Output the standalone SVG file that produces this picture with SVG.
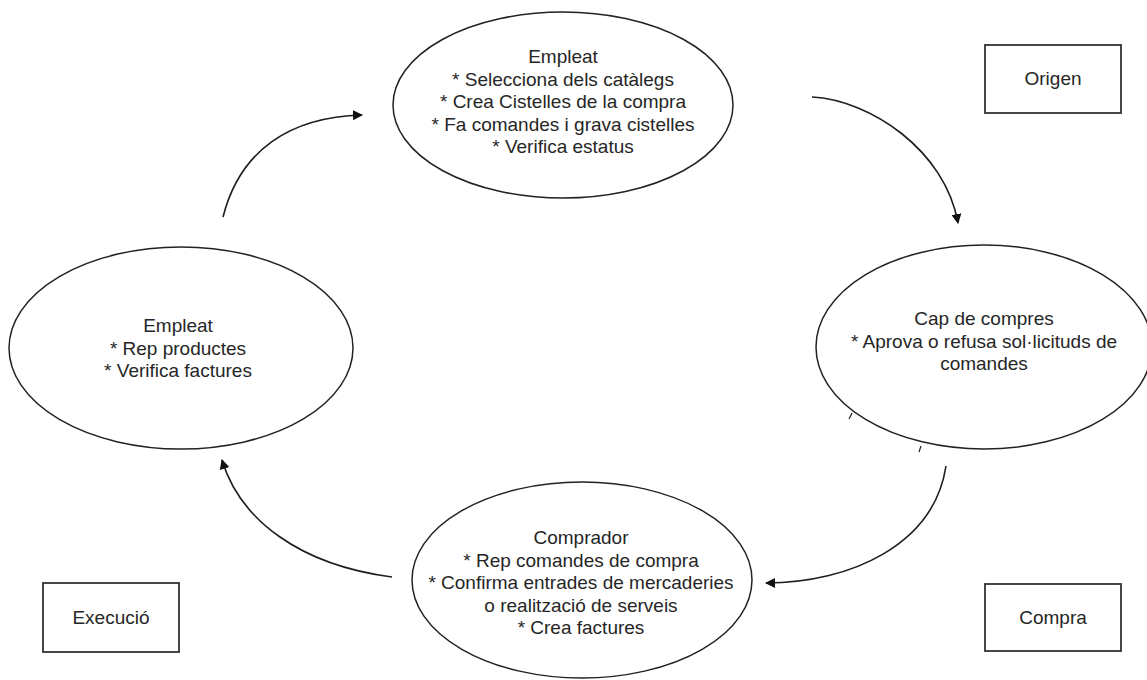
<svg xmlns="http://www.w3.org/2000/svg" width="1147" height="680" viewBox="0 0 1147 680">
<style>
  .ell { fill: #ffffff; stroke: #222222; stroke-width: 1.5; }
  .box { fill: #ffffff; stroke: #333333; stroke-width: 1.8; }
  .t { font-family: "Liberation Sans", Arial, sans-serif; font-size: 19px; fill: #262626; text-anchor: middle; }
  .conn { fill: none; stroke: #1e1e1e; stroke-width: 1.6; }
  .tick { stroke: #222222; stroke-width: 1.2; }
</style>
<defs>
  <marker id="arr" viewBox="0 0 10 10" refX="9" refY="5" markerWidth="10" markerHeight="10" markerUnits="userSpaceOnUse" orient="auto">
    <path d="M0,0 L10,5 L0,10 z" fill="#111111"/>
  </marker>
</defs>
<rect width="1147" height="680" fill="#ffffff"/>

<g id="node-empleat-top">
  <ellipse class="ell" cx="563" cy="105" rx="170" ry="93"/>
  <text class="t" x="563" y="63">Empleat</text>
  <text class="t" x="563" y="85.5">* Selecciona dels catàlegs</text>
  <text class="t" x="563" y="108">* Crea Cistelles de la compra</text>
  <text class="t" x="563" y="130.5">* Fa comandes i grava cistelles</text>
  <text class="t" x="563" y="153">* Verifica estatus</text>
</g>

<g id="node-cap-compres">
  <ellipse class="ell" cx="984" cy="347" rx="168" ry="102"/>
  <text class="t" x="984" y="325">Cap de compres</text>
  <text class="t" x="984" y="347.5">* Aprova o refusa sol·licituds de</text>
  <text class="t" x="984" y="370">comandes</text>
  <line class="tick" x1="852" y1="413" x2="849" y2="419"/>
  <line class="tick" x1="921" y1="446" x2="919" y2="452"/>
</g>

<g id="node-comprador">
  <ellipse class="ell" cx="582" cy="580" rx="170" ry="98"/>
  <text class="t" x="581" y="544">Comprador</text>
  <text class="t" x="581" y="566.5">* Rep comandes de compra</text>
  <text class="t" x="581" y="589">* Confirma entrades de mercaderies</text>
  <text class="t" x="581" y="611.5">o realització de serveis</text>
  <text class="t" x="581" y="634">* Crea factures</text>
</g>

<g id="node-empleat-left">
  <ellipse class="ell" cx="181" cy="348" rx="172" ry="101"/>
  <text class="t" x="178" y="332">Empleat</text>
  <text class="t" x="178" y="354.5">* Rep productes</text>
  <text class="t" x="178" y="377">* Verifica factures</text>
</g>

<g id="box-origen">
  <rect class="box" x="985" y="45" width="136" height="68"/>
  <text class="t" x="1053" y="85">Origen</text>
</g>

<g id="box-execucio">
  <rect class="box" x="43" y="583" width="136" height="69"/>
  <text class="t" x="111" y="624">Execució</text>
</g>

<g id="box-compra">
  <rect class="box" x="985" y="584" width="136" height="67"/>
  <text class="t" x="1053" y="624">Compra</text>
</g>

<g id="connectors">
  <path class="conn" marker-end="url(#arr)" d="M223,217 C240,150 290,117 362,115"/>
  <path class="conn" marker-end="url(#arr)" d="M812,97 C870,100 945,150 958,223"/>
  <path class="conn" marker-end="url(#arr)" d="M946,466 C934,545 850,583 766,583"/>
  <path class="conn" marker-end="url(#arr)" d="M392,577 C300,565 240,520 222,460"/>
</g>
</svg>
